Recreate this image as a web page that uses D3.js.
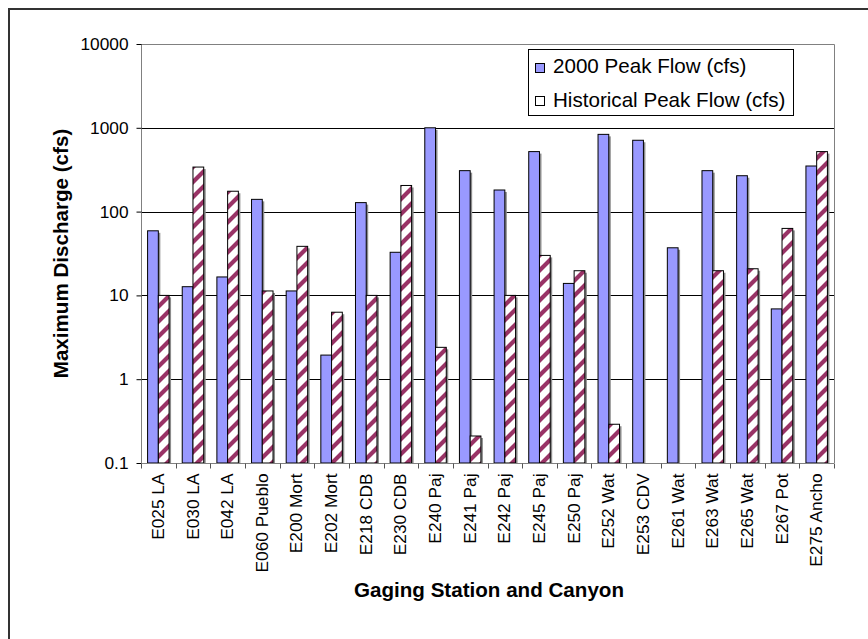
<!DOCTYPE html>
<html>
<head>
<meta charset="utf-8">
<script src="https://cdn.jsdelivr.net/npm/d3@7"></script>
<style>
  html, body { margin: 0; padding: 0; background: #fff; }
  svg { display: block; font-family: "Liberation Sans", Arial, sans-serif; }
</style>
</head>
<body>
<svg id="chart" width="868" height="639"></svg>
<script>
// Gaging stations (station id + canyon)
const stations = ["E025 LA", "E030 LA", "E042 LA", "E060 Pueblo", "E200 Mort", "E202 Mort",
  "E218 CDB", "E230 CDB", "E240 Paj", "E241 Paj", "E242 Paj", "E245 Paj", "E250 Paj",
  "E252 Wat", "E253 CDV", "E261 Wat", "E263 Wat", "E265 Wat", "E267 Pot", "E275 Ancho"];

// 2000 peak flow, cfs
const peak2000 = [59, 12.7, 16.6, 140, 11.3, 1.94, 128, 32.7, 1000, 308, 181, 520, 13.9,
  835, 710, 37, 308, 268, 6.9, 350];

// Historical peak flow, cfs (null = no record)
const historical = [10, 340, 175, 11.3, 38.5, 6.3, 10, 205, 2.4, 0.21, 10, 30, 19.7,
  0.29, null, null, 19.7, 20.8, 63, 520];

const yTicks = [0.1, 1, 10, 100, 1000, 10000];
const seriesNames = ["2000 Peak Flow (cfs)", "Historical Peak Flow (cfs)"];

const svg = d3.select("#chart");
const plot = { left: 141, right: 834, top: 44, bottom: 463 };

const x = d3.scaleBand().domain(stations).range([plot.left, plot.right]).paddingInner(0).paddingOuter(0);
const y = d3.scaleLog().domain([0.1, 10000]).range([plot.bottom, plot.top]);

const defs = svg.append("defs");

// Diagonal maroon stripes for the historical series
const P = 15;
const pat = defs.append("pattern")
  .attr("id", "stripes")
  .attr("patternUnits", "userSpaceOnUse")
  .attr("width", P).attr("height", P);
pat.append("rect").attr("width", P).attr("height", P).attr("fill", "#fff");
pat.append("path")
  .attr("d", `M0,${P} L${P},0 M${-P / 2},${P / 2} L${P / 2},${-P / 2} M${P / 2},${3 * P / 2} L${3 * P / 2},${P / 2}`)
  .attr("stroke", "#993366").attr("stroke-width", 4.2).attr("fill", "none");

const blur = defs.append("filter").attr("id", "soft");
blur.append("feGaussianBlur").attr("stdDeviation", 0.5);

defs.append("clipPath").attr("id", "plotClip")
  .append("rect")
  .attr("x", plot.left).attr("y", plot.top)
  .attr("width", plot.right - plot.left + 4).attr("height", plot.bottom - plot.top);

// Outer chart frame
svg.append("rect")
  .attr("x", 9).attr("y", 9).attr("width", 900).attr("height", 700)
  .attr("fill", "none").attr("stroke", "#333").attr("stroke-width", 2);

// Plot area border (top / right)
svg.append("path")
  .attr("d", `M${plot.left},${plot.top + 0.5}H${plot.right + 0.5}V${plot.bottom}`)
  .attr("fill", "none").attr("stroke", "#808080").attr("stroke-width", 1);

// Major gridlines
svg.append("g").selectAll("line")
  .data(yTicks.filter(t => t > 0.1 && t < 10000))
  .join("line")
  .attr("x1", plot.left).attr("x2", plot.right)
  .attr("y1", d => Math.round(y(d)) + 0.5).attr("y2", d => Math.round(y(d)) + 0.5)
  .attr("stroke", "#000").attr("stroke-width", 1);

// Bars
const bw = x.bandwidth();
const barW = bw * 0.31;
const offset = (bw - 2 * barW) / 2;

const bars = [];
stations.forEach((s, i) => {
  bars.push({ s, v: peak2000[i], k: 0 });
  if (historical[i] != null) bars.push({ s, v: historical[i], k: 1 });
});

const barG = svg.append("g").attr("clip-path", "url(#plotClip)");
// drop shadows
barG.selectAll("rect.shadow")
  .data(bars)
  .join("rect")
  .attr("class", "shadow")
  .attr("x", d => x(d.s) + offset + d.k * barW + 2)
  .attr("y", d => y(d.v) + 2)
  .attr("width", barW)
  .attr("height", d => y(0.1) - y(d.v))
  .attr("fill", "#8c8c8c");

barG.selectAll("rect.bar")
  .data(bars)
  .join("rect")
  .attr("class", "bar")
  .attr("x", d => x(d.s) + offset + d.k * barW)
  .attr("y", d => y(d.v))
  .attr("width", barW)
  .attr("height", d => y(0.1) - y(d.v))
  .attr("fill", d => d.k === 0 ? "#9999ff" : "url(#stripes)")
  .attr("stroke", "#000").attr("stroke-width", 1);

// Y axis
const yAxis = d3.axisLeft(y).tickValues(yTicks).tickSize(5).tickPadding(8)
  .tickFormat(d => d3.format("")(d));
const gy = svg.append("g").attr("transform", `translate(${plot.left + 0.5},0)`).call(yAxis);
gy.select(".domain").attr("stroke", "#808080").attr("d", `M0,${plot.top}V${plot.bottom}`);
gy.selectAll(".tick line").attr("stroke", "#000");
gy.selectAll(".tick text").attr("font-size", "17.3px").attr("fill", "#000")
  .attr("font-family", "Liberation Sans, Arial, sans-serif");

// X axis: ticks at category boundaries
const gx = svg.append("g").attr("transform", `translate(0,${plot.bottom + 0.5})`);
gx.append("line").attr("x1", plot.left).attr("x2", plot.right)
  .attr("stroke", "#808080");
gx.selectAll("line.tick")
  .data(stations.concat(["end"]))
  .join("line")
  .attr("class", "tick")
  .attr("x1", (d, i) => Math.round(plot.left + i * bw) + 0.5)
  .attr("x2", (d, i) => Math.round(plot.left + i * bw) + 0.5)
  .attr("y1", 0).attr("y2", 5)
  .attr("stroke", "#555");
gx.selectAll("text")
  .data(stations)
  .join("text")
  .attr("transform", d => `translate(${x(d) + bw / 2},10) rotate(-90)`)
  .attr("dy", "0.32em")
  .attr("text-anchor", "end")
  .attr("font-size", "17.3px")
  .text(d => d);

// Axis titles
svg.append("text")
  .attr("transform", `translate(68,${(plot.top + plot.bottom) / 2}) rotate(-90)`)
  .attr("text-anchor", "middle")
  .attr("font-size", "20.6px").attr("font-weight", "bold")
  .text("Maximum Discharge (cfs)");

svg.append("text")
  .attr("x", 489).attr("y", 597)
  .attr("text-anchor", "middle")
  .attr("font-size", "20.6px").attr("font-weight", "bold")
  .text("Gaging Station and Canyon");

// Legend
const lg = svg.append("g");
lg.append("rect")
  .attr("x", 528.5).attr("y", 49.5).attr("width", 265).attr("height", 66)
  .attr("fill", "#fff").attr("stroke", "#000");
seriesNames.forEach((name, i) => {
  const cy = 67 + i * 33.5;
  lg.append("rect")
    .attr("x", 535.5).attr("y", Math.round(cy - 4.5) + 0.5).attr("width", 9).attr("height", 9)
    .attr("fill", i === 0 ? "#9999ff" : "#fff").attr("stroke", "#000");
  lg.append("text")
    .attr("x", 553).attr("y", cy + 6.3)
    .attr("font-size", "20.6px")
    .text(name);
});
</script>
</body>
</html>
